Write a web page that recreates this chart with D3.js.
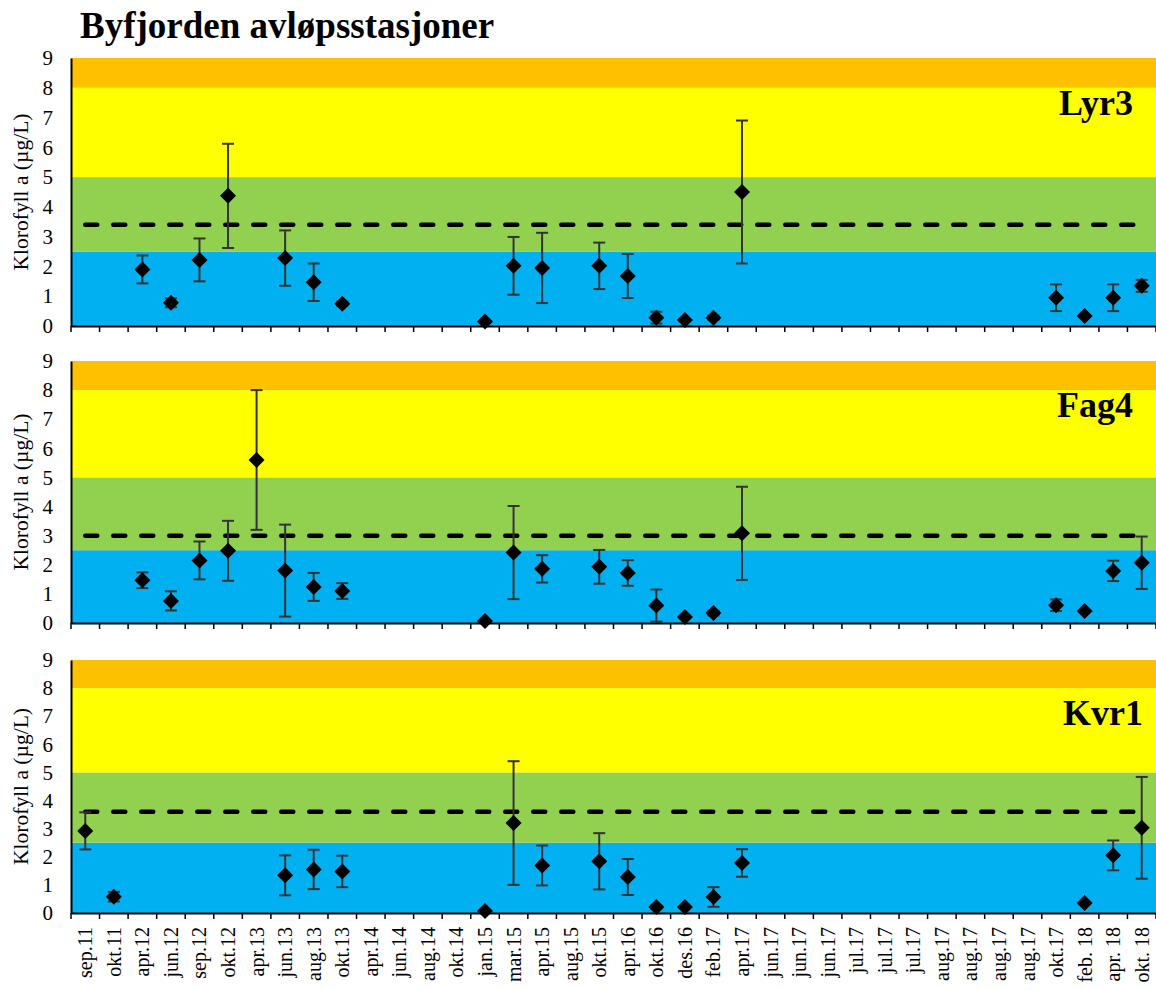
<!DOCTYPE html>
<html>
<head>
<meta charset="utf-8">
<script src="https://cdn.jsdelivr.net/npm/d3@7"></script>
<style>
  html, body { margin: 0; padding: 0; background: #fff; }
  svg { display: block; }
  text { font-family: "Liberation Serif", "Times New Roman", serif; }
</style>
</head>
<body>
<svg id="chart" width="1156" height="990"></svg>
<script>
// ---------- data ----------
const categories = ["sep.11","okt.11","apr.12","jun.12","sep.12","okt.12","apr.13","jun.13","aug.13","okt.13",
  "apr.14","jun.14","aug.14","okt.14","jan.15","mar.15","apr.15","aug.15","okt.15","apr.16",
  "okt.16","des.16","feb.17","apr.17","jun.17","jun.17","jun.17","jul.17","jul.17","jul.17",
  "aug.17","aug.17","aug.17","aug.17","okt.17","feb. 18","apr. 18","okt. 18"];
const N = null;
const lyr3Values = [N,N,1.9,0.78,2.22,4.37,N,2.28,1.47,0.75, N,N,N,N,0.15,2.02,1.95,N,2.02,1.68,
  0.28,0.2,0.28,4.5,N,N,N,N,N,N, N,N,N,N,0.95,0.34,0.95,1.35];
const lyr3Errors = [N,N,0.47,0.15,0.72,1.75,N,0.93,0.63,0.07, N,N,N,N,0,0.97,1.18,N,0.78,0.74,
  0.2,0.03,0.07,2.4,N,N,N,N,N,N, N,N,N,N,0.45,0,0.45,0.2];
const fag4Values = [N,N,1.47,0.76,2.15,2.48,5.6,1.8,1.24,1.1, N,N,N,N,0.07,2.42,1.86,N,1.93,1.72,
  0.6,0.21,0.34,3.08,N,N,N,N,N,N, N,N,N,N,0.61,0.41,1.79,2.07];
const fag4Errors = [N,N,0.27,0.33,0.65,1.03,2.4,1.58,0.48,0.27, N,N,N,N,0,1.6,0.47,N,0.58,0.44,
  0.55,0.05,0.08,1.6,N,N,N,N,N,N, N,N,N,N,0.2,0,0.35,0.9];
const kvr1Values = [2.92,0.58,N,N,N,N,N,1.34,1.55,1.48, N,N,N,N,0.07,3.2,1.69,N,1.84,1.28,
  0.21,0.21,0.57,1.78,N,N,N,N,N,N, N,N,N,N,N,0.36,2.05,3.03];
const kvr1Errors = [0.66,0.17,N,N,N,N,N,0.71,0.7,0.56, N,N,N,N,0,2.2,0.71,N,1.0,0.64,
  0.07,0.02,0.35,0.49,N,N,N,N,N,N, N,N,N,N,N,0,0.53,1.81];
const stations = ["Lyr3","Fag4","Kvr1"];
const referenceLevels = [3.4, 3.0, 3.6];
const bandBreaks = [0, 2.5, 5, 8, 9];
const bandColors = ["#00B0F0","#92D050","#FFFF00","#FFC000"];
const yTicks = [0,1,2,3,4,5,6,7,8,9];
const title = "Byfjorden avløpsstasjoner";
const yTitle = "Klorofyll a (µg/L)";

// ---------- layout ----------
const svg = d3.select("#chart");
const left = 71, right = 1156;
const panels = [
  {top: 58, bottom: 326, values: lyr3Values, errors: lyr3Errors, labelX: 1133, labelY: 115},
  {top: 361, bottom: 623, values: fag4Values, errors: fag4Errors, labelX: 1133, labelY: 417},
  {top: 660, bottom: 913, values: kvr1Values, errors: kvr1Errors, labelX: 1143, labelY: 725}
];

const x = d3.scaleBand().domain(d3.range(categories.length)).range([left, right]).padding(0);

svg.append("text")
  .attr("x", 80).attr("y", 38)
  .attr("font-size", 37).attr("font-weight", "bold")
  .text(title);

panels.forEach((p, pi) => {
  const y = d3.scaleLinear().domain([0, 9]).range([p.bottom, p.top]);
  const g = svg.append("g");

  // bands
  g.selectAll("rect.band").data(bandColors).join("rect")
    .attr("x", left).attr("width", right - left)
    .attr("y", (d, i) => y(bandBreaks[i + 1]))
    .attr("height", (d, i) => y(bandBreaks[i]) - y(bandBreaks[i + 1]))
    .attr("fill", d => d);

  // reference dashed line
  const ref = referenceLevels[pi];
  g.append("line")
    .attr("x1", x(0) + x.bandwidth() / 2)
    .attr("x2", x(categories.length - 1) + x.bandwidth() / 2)
    .attr("y1", y(ref)).attr("y2", y(ref))
    .attr("stroke", "#000").attr("stroke-width", 4.5)
    .attr("stroke-dasharray", "12 16").attr("stroke-linecap", "round");

  // error bars
  const pts = p.values.map((v, i) => ({i, v, e: p.errors[i]})).filter(d => d.v !== null);
  const eb = g.selectAll("g.err").data(pts.filter(d => d.e > 0)).join("g")
    .attr("stroke", "#333").attr("stroke-width", 2);
  const cx = d => x(d.i) + x.bandwidth() / 2;
  eb.append("line").attr("x1", cx).attr("x2", cx)
    .attr("y1", d => y(d.v + d.e)).attr("y2", d => y(Math.max(0, d.v - d.e)));
  eb.append("line").attr("x1", d => cx(d) - 6).attr("x2", d => cx(d) + 6)
    .attr("y1", d => y(d.v + d.e)).attr("y2", d => y(d.v + d.e));
  eb.append("line").attr("x1", d => cx(d) - 6).attr("x2", d => cx(d) + 6)
    .attr("y1", d => y(Math.max(0, d.v - d.e))).attr("y2", d => y(Math.max(0, d.v - d.e)));

  // markers (diamonds)
  const sym = d3.symbol().type(d3.symbolSquare).size(128);
  g.selectAll("path.mk").data(pts).join("path")
    .attr("d", sym)
    .attr("transform", d => `translate(${cx(d)},${y(d.v)}) rotate(45)`)
    .attr("fill", "#000");

  // y axis
  const ya = g.append("g").attr("transform", `translate(${left},0)`)
    .call(d3.axisLeft(y).tickValues(yTicks).tickSize(0).tickPadding(18));
  ya.select(".domain").attr("stroke", "#000").attr("stroke-width", 2);
  ya.selectAll("text").attr("font-size", 21).attr("fill", "#000");

  // x axis
  const xa = g.append("g").attr("transform", `translate(0,${p.bottom})`)
    .call(d3.axisBottom(x).tickSize(0).tickFormat(i => categories[i]));
  xa.select(".domain").attr("stroke", "#000").attr("stroke-width", 2);
  // ticks at category boundaries
  const bounds = d3.range(categories.length + 1).map(i => i < categories.length ? x(i) : right);
  xa.selectAll("line.bt").data(bounds).join("line")
    .attr("x1", d => d).attr("x2", d => d).attr("y1", 0).attr("y2", 6)
    .attr("stroke", "#000").attr("stroke-width", 1.5);
  if (pi < 2) {
    xa.selectAll(".tick text").remove();
  } else {
    xa.selectAll(".tick text")
      .attr("font-size", 20).attr("fill", "#000")
      .attr("text-anchor", "end")
      .attr("transform", "rotate(-90)")
      .attr("x", -14).attr("y", 0).attr("dy", "0.35em");
  }

  // y axis title
  svg.append("text")
    .attr("transform", `translate(28,${(p.top + p.bottom) / 2}) rotate(-90)`)
    .attr("text-anchor", "middle").attr("font-size", 21.5)
    .text(yTitle);

  // station label
  svg.append("text")
    .attr("x", p.labelX).attr("y", p.labelY)
    .attr("text-anchor", "end").attr("font-size", 36).attr("font-weight", "bold")
    .text(stations[pi]);
});
</script>
</body>
</html>
